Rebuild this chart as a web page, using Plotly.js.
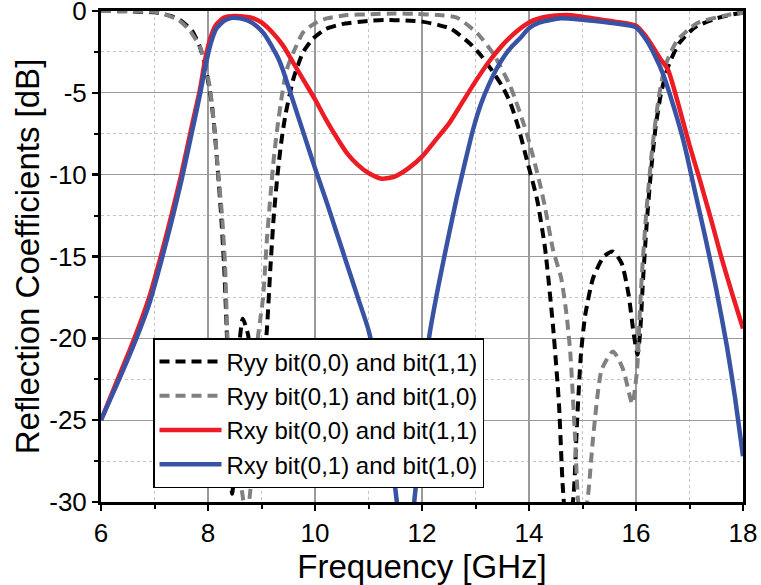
<!DOCTYPE html>
<html>
<head>
<meta charset="utf-8">
<script src="https://cdn.plot.ly/plotly-3.0.1.min.js"></script>
<style>html,body{margin:0;padding:0;background:#fff;}#chart{width:761px;height:585px;}</style>
</head>
<body>
<div id="chart"></div>
<script>
// Ryy bit(0,0) and bit(1,1)
const ryy00_f = [6.0,6.5,7.0,7.3,7.5,7.7,7.85,7.95,8.05,8.12,8.18,8.24,8.3,8.35,8.4,8.45,8.5,8.57,8.65,8.75,8.85,8.95,9.03,9.1,9.17,9.23,9.3,9.37,9.45,9.6,9.78,9.96,10.2,10.5,11.0,11.3,11.7,12.0,12.3,12.55,12.9,13.1,13.3,13.5,13.65,13.8,13.96,14.15,14.3,14.45,14.56,14.63,14.7,14.82,14.9,14.97,15.05,15.2,15.4,15.57,15.73,15.86,15.96,16.03,16.08,16.13,16.2,16.28,16.37,16.47,16.6,16.8,17.1,17.5,17.9,18.0];
const ryy00_db = [0,-0.02,-0.08,-0.3,-0.6,-1.2,-2.2,-3.4,-5.2,-7.2,-9.6,-12.2,-15.5,-19.5,-24.5,-29.5,-28,-21,-18.8,-19.8,-24,-25,-22,-19.5,-15.5,-12.5,-10.0,-8.0,-6.3,-4.1,-2.5,-1.7,-1.1,-0.8,-0.6,-0.55,-0.58,-0.65,-0.85,-1.1,-2.0,-2.7,-3.6,-4.6,-5.6,-7.1,-9.1,-11.5,-14.5,-19.3,-24,-29,-31.5,-30,-25,-21,-18.6,-16.3,-15.0,-14.7,-15.4,-17.3,-19.8,-21.0,-19.5,-16.5,-13.0,-9.8,-7.0,-5.0,-3.4,-2.0,-1.0,-0.45,-0.15,-0.1];

// Ryy bit(0,1) and bit(1,0)
const ryy01_f = [6.0,6.5,7.0,7.23,7.45,7.66,7.85,7.95,8.04,8.13,8.19,8.26,8.32,8.36,8.42,8.5,8.6,8.72,8.8,8.87,8.92,8.97,9.03,9.1,9.17,9.23,9.29,9.38,9.47,9.6,9.78,10.0,10.22,10.6,11.0,11.5,11.9,12.3,12.65,13.03,13.33,13.65,13.96,14.2,14.3,14.45,14.6,14.7,14.77,14.86,14.92,15.0,15.1,15.2,15.36,15.57,15.76,15.93,16.02,16.07,16.12,16.2,16.3,16.42,16.54,16.77,17.14,17.7,18.0];
const ryy01_db = [0,0,-0.05,-0.25,-0.55,-1.2,-2.2,-3.3,-4.8,-7.5,-9.9,-12.4,-15.6,-19.7,-23,-26,-28.5,-31,-29,-24,-20.3,-19,-17.5,-14,-11.2,-9,-7.3,-5.2,-3.6,-2.5,-1.3,-0.75,-0.45,-0.25,-0.2,-0.15,-0.18,-0.25,-0.4,-1.35,-2.6,-4.6,-7.5,-10.5,-12,-14.6,-16.3,-18.5,-20.8,-26,-30,-31.5,-29.7,-26,-21.9,-20.8,-21.9,-24,-21.9,-18.5,-15.6,-12.0,-8.5,-5.4,-3.4,-1.8,-0.75,-0.25,-0.1];

// Rxy bit(0,0) and bit(1,1)
const rxy00_f = [6.0,6.3,6.6,6.9,7.1,7.3,7.5,7.7,7.85,7.95,8.05,8.15,8.3,8.5,8.7,8.85,9.0,9.2,9.4,9.6,9.8,10.0,10.2,10.4,10.6,10.8,11.0,11.25,11.5,11.75,12.0,12.25,12.5,12.75,13.0,13.25,13.5,13.75,14.0,14.25,14.5,14.7,14.9,15.2,15.6,16.0,16.15,16.3,16.45,16.6,16.8,17.0,17.2,17.4,17.6,17.8,18.0];
const rxy00_db = [-25.0,-22.6,-20.2,-17.5,-15.2,-12.7,-10.0,-7.0,-4.8,-2.9,-1.6,-0.85,-0.4,-0.3,-0.35,-0.45,-0.7,-1.3,-2.1,-3.2,-4.3,-5.4,-6.6,-7.7,-8.7,-9.4,-9.9,-10.25,-10.1,-9.6,-8.9,-7.9,-6.9,-5.6,-4.3,-3.1,-2.1,-1.3,-0.7,-0.4,-0.28,-0.25,-0.3,-0.45,-0.65,-0.9,-1.4,-2.1,-2.9,-3.6,-5.8,-8.2,-10.4,-12.7,-15.1,-17.3,-19.4];

// Rxy bit(0,1) and bit(1,0)
const rxy01_f = [6.0,6.3,6.6,6.9,7.1,7.3,7.5,7.7,7.85,7.95,8.05,8.15,8.3,8.45,8.6,8.75,8.9,9.05,9.2,9.3,9.4,9.5,9.6,9.8,10.0,10.2,10.4,10.6,10.8,11.0,11.2,11.35,11.45,11.55,11.7,11.8,11.9,12.0,12.13,12.3,12.5,12.65,12.8,12.95,13.1,13.25,13.4,13.55,13.7,13.85,14.0,14.2,14.4,14.6,14.9,15.2,15.6,16.0,16.2,16.35,16.5,16.7,16.9,17.1,17.3,17.5,17.7,17.85,18.0];
const rxy01_db = [-25.0,-22.8,-20.5,-17.9,-15.6,-13.1,-10.4,-7.4,-5.1,-3.4,-2.0,-1.1,-0.6,-0.42,-0.45,-0.6,-0.9,-1.4,-2.2,-2.8,-3.6,-4.6,-5.6,-7.6,-9.6,-11.5,-13.5,-15.5,-17.5,-19.5,-22.6,-25.6,-27.8,-30.5,-33.5,-31.5,-28.5,-24.5,-20.0,-16.9,-13.7,-11.4,-9.3,-7.3,-5.7,-4.5,-3.5,-2.7,-2.1,-1.6,-1.05,-0.7,-0.55,-0.45,-0.5,-0.6,-0.75,-1.0,-1.8,-2.7,-3.8,-5.8,-8.1,-11.0,-13.9,-17.0,-20.5,-23.6,-27.2];

const names = ['Ryy bit(0,0) and bit(1,1)','Ryy bit(0,1) and bit(1,0)','Rxy bit(0,0) and bit(1,1)','Rxy bit(0,1) and bit(1,0)'];
const xTicks = [6,8,10,12,14,16,18];
const yTicks = [0,-5,-10,-15,-20,-25,-30];

const traces = [
  {x: ryy00_f, y: ryy00_db, name: names[0], legendgroup:'a', mode:'lines',
   line:{color:'#000000', width:4, dash:'10px,6px', shape:'spline', smoothing:0.6}},
  {x: ryy01_f, y: ryy01_db, name: names[1], legendgroup:'b', mode:'lines',
   line:{color:'#808080', width:4, dash:'10px,6px', shape:'spline', smoothing:0.6}},
  {x: rxy00_f, y: rxy00_db, name: names[2], legendgroup:'c', mode:'lines',
   line:{color:'#ED1C24', width:4.5, shape:'spline', smoothing:0.6}},
  {x: rxy01_f, y: rxy01_db, name: names[3], legendgroup:'d', mode:'lines',
   line:{color:'#3953A4', width:4.5, shape:'spline', smoothing:0.6}}
];

const font = 'Liberation Sans, Arial, sans-serif';
const layout = {
  width:761, height:585,
  margin:{l:101, r:18, t:11, b:83},
  paper_bgcolor:'#fff', plot_bgcolor:'#fff',
  showlegend:true,
  font:{family:font, color:'#000', size:24},
  xaxis:{
    range:[6,18], tickvals:xTicks, ticktext:xTicks.map(String),
    showline:true, linecolor:'#000', linewidth:3, mirror:true,
    ticks:'outside', ticklen:6, tickwidth:2.5, tickcolor:'#000',
    showgrid:true, gridcolor:'#9a9a9a', gridwidth:1.2, zeroline:false,
    tickfont:{size:26, family:font}, ticklabeloverflow:'allow',
    minor:{dtick:1, showgrid:true, gridcolor:'#c4c4c4', griddash:'dot', gridwidth:1, ticks:'outside', ticklen:4, tickwidth:2, tickcolor:'#000'},
    title:{text:'Frequency [GHz]', font:{size:33, family:font}, standoff:0}
  },
  yaxis:{
    range:[-30,0], tickvals:yTicks, ticktext:yTicks.map(String),
    showline:true, linecolor:'#000', linewidth:3, mirror:true,
    ticks:'outside', ticklen:6, tickwidth:2.5, tickcolor:'#000',
    showgrid:true, gridcolor:'#9a9a9a', gridwidth:1.2, zeroline:false,
    tickfont:{size:26, family:font}, ticklabeloverflow:'allow',
    minor:{dtick:2.5, showgrid:true, gridcolor:'#c4c4c4', griddash:'dot', gridwidth:1, ticks:'outside', ticklen:4, tickwidth:2, tickcolor:'#000'},
    title:{text:'Reflection Coefficients [dB]', font:{size:33, family:font}, standoff:0}
  },
  xaxis2:{
    overlaying:'x', anchor:'y', side:'bottom', range:[6,18], tickvals:xTicks,
    ticks:'inside', ticklen:6, tickwidth:2.5, tickcolor:'#000',
    showticklabels:false, showgrid:false, zeroline:false, showline:false
  },
  yaxis2:{
    overlaying:'y', anchor:'x', side:'left', range:[-30,0], tickvals:yTicks,
    ticks:'inside', ticklen:6, tickwidth:2.5, tickcolor:'#000',
    showticklabels:false, showgrid:false, zeroline:false, showline:false
  },
  legend:{
    x:0.081, y:0.334, xanchor:'left', yanchor:'top',
    bgcolor:'#fff', bordercolor:'#000', borderwidth:1.5,
    font:{size:24, family:font, color:'#000'},
    traceorder:'grouped', tracegroupgap:0, itemwidth:62
  }
};

Plotly.newPlot('chart', traces, layout, {displayModeBar:false, staticPlot:true});
</script>
</body>
</html>
